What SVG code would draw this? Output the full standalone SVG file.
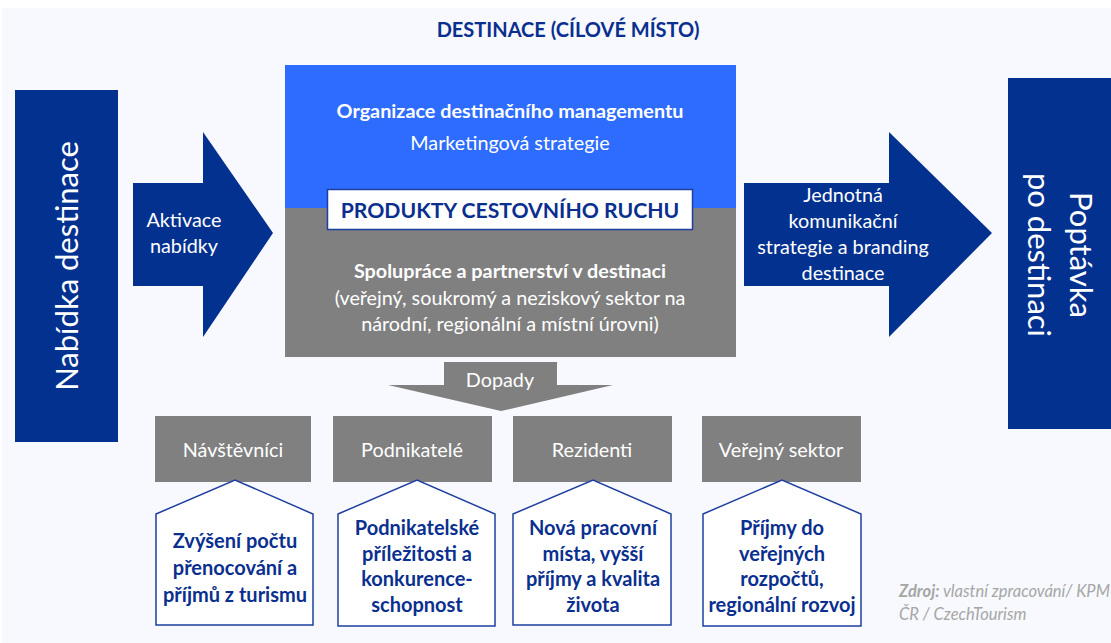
<svg xmlns="http://www.w3.org/2000/svg" width="1111" height="643" viewBox="0 0 1111 643">
<defs>
<style>
text{font-family:Lato,"Open Sans","Liberation Sans",sans-serif;}
.dk{fill:#03318F;}
.blue{fill:#2D6CFF;}
.gray{fill:#808080;}
.t-w{fill:#FFFFFF;font-size:19.8px;text-anchor:middle;}
.t-b{fill:#0A2F8F;font-size:20px;font-weight:bold;text-anchor:middle;}
.pent{fill:#FFFFFF;stroke:#1F3FA0;stroke-width:1.5;}
</style>
</defs>
<rect x="0" y="0" width="1111" height="643" fill="#FFFFFF"/>
<rect x="2" y="8" width="1109" height="635" fill="#F7F9FE"/>
<text x="568" y="37" font-size="20" font-weight="bold" fill="#0A2F8F" text-anchor="middle">DESTINACE (CÍLOVÉ MÍSTO)</text>

<g id="nabidka">
<rect x="15" y="90" width="103" height="352" class="dk"/>
<text transform="translate(78,266) rotate(-90)" x="0" y="0" font-size="31" fill="#FFFFFF" text-anchor="middle">Nabídka destinace</text>
</g>

<g id="poptavka">
<rect x="1008" y="78" width="103" height="351" class="dk"/>
<text transform="translate(1070,255) rotate(90)" font-size="31" fill="#FFFFFF" text-anchor="middle"><tspan x="0" y="0">Poptávka</tspan><tspan x="0" y="42">po destinaci</tspan></text>
</g>

<g id="center">
<rect x="285" y="65" width="451" height="143" class="blue"/>
<rect x="285" y="208" width="451" height="149" class="gray"/>
<text x="510" y="118" class="t-w" font-size="21.2" font-weight="bold">Organizace destinačního managementu</text>
<text x="510" y="150" class="t-w">Marketingová strategie</text>
<text x="510" y="278" class="t-w" font-size="21.2" font-weight="bold">Spolupráce a partnerství v destinaci</text>
<text x="510" y="305" class="t-w">(veřejný, soukromý a neziskový sektor na</text>
<text x="510" y="331" class="t-w">národní, regionální a místní úrovni)</text>
</g>

<g id="produkty">
<rect x="327.5" y="189.5" width="365" height="40" fill="#FFFFFF" stroke="#1F3FA0" stroke-width="1.5"/>
<text x="510" y="218" font-size="21.2" font-weight="bold" fill="#0A2F8F" text-anchor="middle">PRODUKTY CESTOVNÍHO RUCHU</text>
</g>

<g id="connectors">
<g id="arrow-aktivace">
<polygon points="133,183 203,183 203,132 273,233 203,337 203,286 133,286" class="dk"/>
<text class="t-w"><tspan x="184" y="227">Aktivace</tspan><tspan x="184" y="253">nabídky</tspan></text>
</g>
<g id="arrow-komunikace">
<polygon points="744,183 889,183 889,132 992,233 889,337 889,286 744,286" class="dk"/>
<text class="t-w"><tspan x="843" y="202">Jednotná</tspan><tspan x="843" y="228">komunikační</tspan><tspan x="843" y="254">strategie a branding</tspan><tspan x="843" y="280">destinace</tspan></text>
</g>
<g id="arrow-dopady">
<polygon points="444,362 557,362 557,385 613,385 501,411 388,385 444,385" class="gray"/>
<text x="500" y="387" class="t-w">Dopady</text>
</g>
</g>

<g id="navstevnici">
<rect x="155" y="416" width="156" height="66" class="gray"/>
<text x="233" y="457" class="t-w">Návštěvníci</text>
<polygon points="156,514 235,480 313,514 313,625 156,625" class="pent"/>
<text class="t-b"><tspan x="235" y="548">Zvýšení počtu</tspan><tspan x="235" y="575">přenocování a</tspan><tspan x="235" y="602">příjmů z turismu</tspan></text>
</g>

<g id="podnikatele">
<rect x="333" y="416" width="159" height="66" class="gray"/>
<text x="412" y="457" class="t-w">Podnikatelé</text>
<polygon points="338,514 417,480 495,514 495,626 338,626" class="pent"/>
<text class="t-b"><tspan x="417" y="535">Podnikatelské</tspan><tspan x="417" y="561">příležitosti a</tspan><tspan x="417" y="586">konkurence-</tspan><tspan x="417" y="612">schopnost</tspan></text>
</g>

<g id="rezidenti">
<rect x="513" y="416" width="159" height="66" class="gray"/>
<text x="592" y="457" class="t-w">Rezidenti</text>
<polygon points="513,514 593,480 671,514 671,625 513,625" class="pent"/>
<text class="t-b"><tspan x="593" y="535">Nová pracovní</tspan><tspan x="593" y="561">místa, vyšší</tspan><tspan x="593" y="586">příjmy a kvalita</tspan><tspan x="593" y="612">života</tspan></text>
</g>

<g id="verejny">
<rect x="702" y="416" width="159" height="66" class="gray"/>
<text x="781" y="457" class="t-w">Veřejný sektor</text>
<polygon points="703,514 782,480 861,514 861,626 703,626" class="pent"/>
<text class="t-b"><tspan x="782" y="535">Příjmy do</tspan><tspan x="782" y="561">veřejných</tspan><tspan x="782" y="586">rozpočtů,</tspan><tspan x="782" y="612">regionální rozvoj</tspan></text>
</g>

<g id="zdroj">
<text font-size="16.5" font-style="italic" fill="#A6A6A6"><tspan x="899" y="597"><tspan font-weight="bold">Zdroj:</tspan> vlastní zpracování/ KPM</tspan><tspan x="899" y="620">ČR / CzechTourism</tspan></text>
</g>
</svg>
